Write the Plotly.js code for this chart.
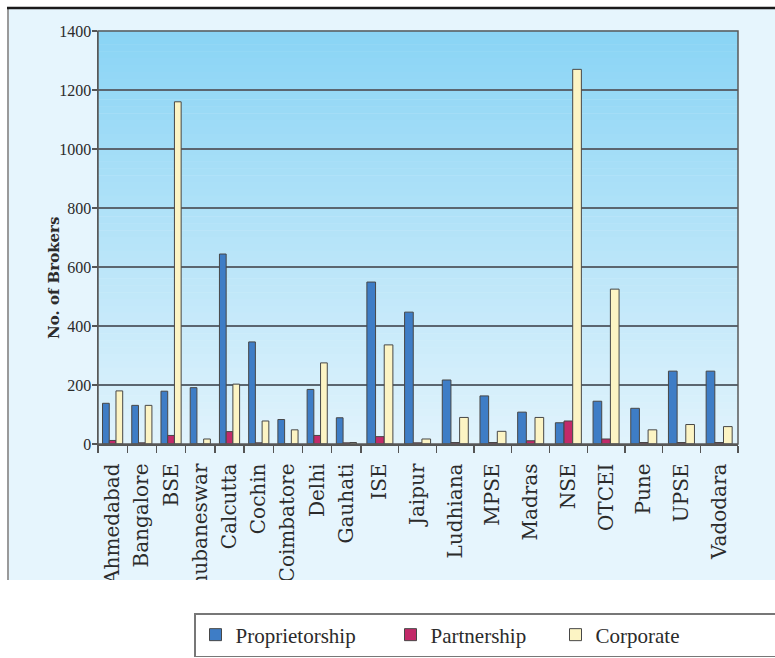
<!DOCTYPE html>
<html>
<head>
<meta charset="utf-8">
<script src="https://cdn.plot.ly/plotly-3.0.1.min.js"></script>
<style>html,body{margin:0;padding:0;background:#fff;}#chart{width:775px;height:658px;}</style>
</head>
<body>
<div id="chart"></div>
<script>
// ---- data ----
var exchanges = ["Ahmedabad","Bangalore","BSE","Bhubaneswar","Calcutta","Cochin","Coimbatore","Delhi","Gauhati",
                 "ISE","Jaipur","Ludhiana","MPSE","Madras","NSE","OTCEI","Pune","UPSE","Vadodara"];
var proprietorship = [138,131,179,191,644,346,83,185,89, 549,447,217,163,108,72,145,121,247,247];
var partnership    = [12,4,29,0,42,4,0,29,4, 25,4,5,5,11,78,17,5,5,5];
var corporate      = [180,131,1160,17,203,78,48,275,5, 336,17,90,43,90,1270,525,48,66,59];
var seriesNames = ["Proprietorship","Partnership","Corporate"];
var yTicks = [0,200,400,600,800,1000,1200,1400];
var yTitle = "No. of Brokers";
var splitAt = 9; // the original figure is two panels joined after "Gauhati"

// ---- styling ----
var colors = ["#3e7dc6","#c22a69","#fcf4c4"];
var legendWidths = [150,120,200];
var outline = {color:"#474747", width:1};
var serif = "DejaVu Serif";
var series = [proprietorship, partnership, corporate];

var traces = [];
[["x", 0, splitAt], ["x2", splitAt, exchanges.length]].forEach(function(part, pi){
  series.forEach(function(vals, si){
    traces.push({
      type:"bar",
      name: seriesNames[si],
      x: exchanges.slice(part[1], part[2]),
      y: vals.slice(part[1], part[2]),
      xaxis: part[0], yaxis:"y",
      marker:{color:colors[si], line:outline},
      legendgroup: seriesNames[si],
      showlegend: pi === 0,
      legendwidth: legendWidths[si],
      hoverinfo:"x+y+name"
    });
  });
});

// plot-area geometry helpers (paper coords from pixels)
var L=98, R=37, T=31, B=214, W=775, H=658;
var pw = W-L-R, ph = H-T-B;
function px2x(p){ return (p-L)/pw; }
function px2y(p){ return 1-(p-T)/ph; }

var shapes = [];
shapes.push({type:"rect", xref:"paper", yref:"paper", x0:px2x(8), x1:px2x(790), y0:px2y(580), y1:px2y(9),
             fillcolor:"#e6f5fd", line:{width:0}, layer:"below"});
var gTop = [137,212,245], gBot = [225,243,252], nb = 60;
for (var i=0;i<nb;i++){
  var t = (i+0.5)/nb;
  var c = gTop.map(function(v,k){ return Math.round(v+(gBot[k]-v)*t); });
  shapes.push({type:"rect", xref:"paper", yref:"paper", x0:0, x1:1,
               y0:1-(i+1)/nb, y1:1-i/nb + 0.001,
               fillcolor:"rgb("+c.join(",")+")", line:{width:0}, layer:"below"});
}
shapes.push({type:"rect", xref:"paper", yref:"paper", x0:px2x(-20), x1:px2x(800), y0:px2y(700), y1:px2y(580),
             fillcolor:"#ffffff", line:{width:0}, layer:"above"});
shapes.push({type:"line", xref:"paper", yref:"paper", x0:px2x(8), x1:px2x(8), y0:px2y(580), y1:px2y(9),
             line:{color:"#9a9a9a", width:2}, layer:"above"});
shapes.push({type:"line", xref:"paper", yref:"paper", x0:px2x(7), x1:px2x(790), y0:px2y(8), y1:px2y(8),
             line:{color:"#1a1a1a", width:2.5}, layer:"above"});
shapes.push({type:"rect", xref:"paper", yref:"paper", x0:0, x1:1, y0:0, y1:1,
             line:{color:"#5a5a5a", width:1.5}, fillcolor:"rgba(0,0,0,0)", layer:"above"});

var xCommon = {
  type:"category", showgrid:false, showline:true, linecolor:"#555", linewidth:1.5,
  ticks:"outside", tickson:"boundaries", ticklen:7, tickcolor:"#555", tickwidth:1.3,
  tickangle:-90, ticklabelstandoff:10,
  tickfont:{family:serif, size:20, color:"#2b2b2b"}, anchor:"y", fixedrange:true
};
var xa1 = Object.assign({}, xCommon, {domain:[0, 0.411]});
var xa2 = Object.assign({}, xCommon, {domain:[0.411, 1]});

var layout = {
  width:W, height:H,
  margin:{l:L, r:R, t:T, b:B, autoexpand:false},
  paper_bgcolor:"#ffffff", plot_bgcolor:"rgba(0,0,0,0)",
  barmode:"group", bargap:0.31, bargroupgap:0,
  xaxis: xa1, xaxis2: xa2,
  yaxis:{
    range:[0,1400], tickvals:yTicks, ticktext:yTicks.map(String),
    showgrid:true, gridcolor:"#5b6670", gridwidth:1.3, zeroline:false,
    showline:true, linecolor:"#555", linewidth:1.5,
    ticks:"outside", ticklen:5, tickcolor:"#555", tickwidth:1.3, ticklabelstandoff:-3,
    tickfont:{family:"Liberation Serif", size:16, color:"#2b2b2b"},
    fixedrange:true
  },
  annotations:[{
    text: yTitle, xref:"paper", yref:"paper", x:px2x(54), y:px2y(278),
    xanchor:"center", yanchor:"middle", textangle:-90, showarrow:false,
    font:{family:serif, size:15, color:"#2b2b2b", weight:"bold"}
  }],
  legend:{
    orientation:"h", x:px2x(194), xanchor:"left", y:px2y(613), yanchor:"top",
    bgcolor:"#ffffff", bordercolor:"#777", borderwidth:1.5,
    font:{family:"Liberation Serif", size:21, color:"#2b2b2b"},
    entrywidthmode:"pixels", traceorder:"normal"
  },
  shapes: shapes,
  showlegend:true
};

Plotly.newPlot("chart", traces, layout, {displayModeBar:false, staticPlot:true});
</script>
</body>
</html>
